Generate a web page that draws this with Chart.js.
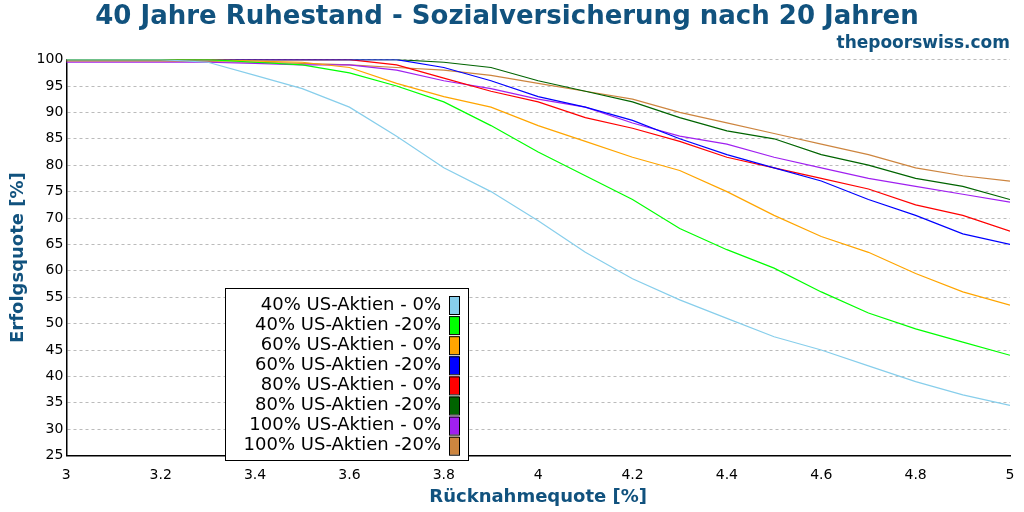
<!DOCTYPE html>
<html><head><meta charset="utf-8">
<script src="https://cdn.jsdelivr.net/npm/chart.js@4"></script>
<style>html,body{margin:0;padding:0;background:#fff}</style>
</head><body><canvas id="c" width="1024" height="512"></canvas>
<script>
const xs=[3.0,3.1,3.2,3.3,3.4,3.5,3.6,3.7,3.8,3.9,4.0,4.1,4.2,4.3,4.4,4.5,4.6,4.7,4.8,4.9,5.0];
const labels=["40% US-Aktien - 0%","40% US-Aktien -20%","60% US-Aktien - 0%","60% US-Aktien -20%","80% US-Aktien - 0%","80% US-Aktien -20%","100% US-Aktien - 0%","100% US-Aktien -20%"];
const colors=["#87ceeb","#00ff00","#ffa500","#0000ff","#ff0000","#006400","#a020f0","#cd853f"];
const s40a=[100,100,100,99.5,97,94.5,91,85.5,79.5,75,69.5,63.5,58.5,54.5,51,47.5,45,42,39,36.5,34.5];
const s40b=[100,100,100,100,99.5,99,97.5,95,92,87.5,82.5,78,73.5,68,64,60.5,56,52,49,46.5,44];
const s60a=[100,100,100,100,99.7,99.5,98.5,95.5,93,91,87.5,84.5,81.5,79,75,70.5,66.5,63.5,59.5,56,53.5];
const s60b=[100,100,100,100,100,100,100,100,98.5,96,93,91,88.5,85,82,79.5,77,73.5,70.5,67,65];
const s80a=[100,100,100,100,100,100,100,99,96.5,94,92,89,87,84.5,81.5,79.5,77.5,75.5,72.5,70.5,67.5];
const s80b=[100,100,100,100,100,100,100,100,99.5,98.5,96,94,92,89,86.5,85,82,80,77.5,76,73.5];
const s100a=[99.5,99.5,99.5,99.5,99.3,99,99,98,96,94.5,92.5,91,88,85.5,84,81.5,79.5,77.5,76,74.5,73];
const s100b=[99.7,99.7,99.7,99.6,99.5,99.3,99,98.5,98,97,95.5,94,92.5,90,88,86,84,82,79.5,78,77];
const series=[s40a,s40b,s60a,s60b,s80a,s80b,s100a,s100b];
const blue="#11527e";
const legendPlugin={id:"lg",afterDraw(ch){const c=ch.ctx;const x0=225,y0=288,w=243,h=172;
c.save();c.fillStyle="#fff";c.fillRect(x0,y0,w,h);c.strokeStyle="#000";c.lineWidth=1;c.strokeRect(x0+0.5,y0+0.5,w,h);
c.font="18px 'DejaVu Sans'";c.textAlign="right";c.textBaseline="middle";
ch.data.datasets.forEach((d,i)=>{const y=y0+17+i*20.1;c.fillStyle="#000";c.fillText(d.label,x0+216,y);
c.fillStyle=d.borderColor;c.fillRect(x0+224,y-9,10,18);c.strokeStyle="#000";c.strokeRect(x0+224.5,y-8.5,10,18);});
c.restore();}};
new Chart(document.getElementById("c"),{type:"line",
data:{datasets:series.map((s,i)=>({label:labels[i],data:xs.map((x,j)=>({x:x,y:s[j]})),borderColor:colors[i],backgroundColor:colors[i],borderWidth:1.2,pointRadius:0,tension:0}))},
options:{animation:false,responsive:false,devicePixelRatio:1,
layout:{padding:{left:4,right:14,top:0,bottom:0}},
plugins:{legend:{display:false},tooltip:{enabled:false},
title:{display:true,text:"40 Jahre Ruhestand - Sozialversicherung nach 20 Jahren",color:blue,font:{family:"DejaVu Sans",size:26,weight:"bold"},padding:{top:2,bottom:0}},
subtitle:{display:true,text:"thepoorswiss.com",align:"end",color:blue,font:{family:"DejaVu Sans",size:17,weight:"bold"},padding:{top:0,bottom:6}}},
scales:{x:{type:"linear",min:3,max:5,ticks:{stepSize:0.2,maxRotation:0,color:"#000",font:{family:"DejaVu Sans",size:14},callback:v=>+v.toFixed(1)},grid:{display:false},border:{color:"#000",width:1.5},
title:{display:true,text:"Rücknahmequote [%]",color:blue,font:{family:"DejaVu Sans",size:18,weight:"bold"},padding:{top:0}}},
y:{min:25,max:100,ticks:{stepSize:5,color:"#000",font:{family:"DejaVu Sans",size:14}},grid:{color:"#bbb",drawTicks:false},border:{color:"#000",width:1.5,dash:[3,3]},
title:{display:true,text:"Erfolgsquote [%]",color:blue,font:{family:"DejaVu Sans",size:18,weight:"bold"}}}}},
plugins:[legendPlugin]});
</script></body></html>
